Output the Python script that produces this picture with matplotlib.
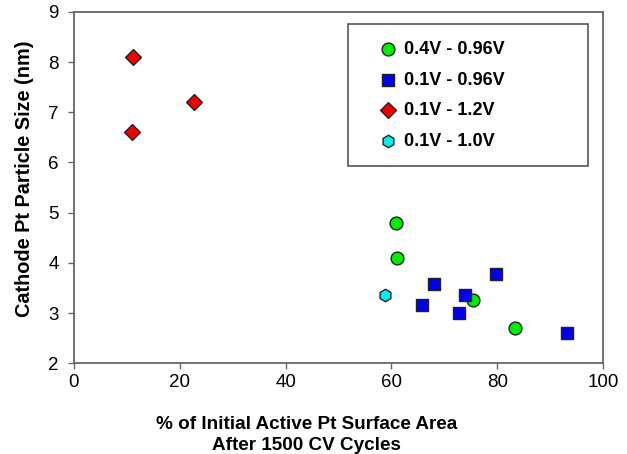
import matplotlib
matplotlib.use("Agg")
import matplotlib.pyplot as plt
from matplotlib.patches import Rectangle

# data
green_x = [60.8, 61.1, 75.4, 83.3]
green_y = [4.80, 4.10, 3.25, 2.70]
blue_x = [68.1, 65.8, 73.8, 72.8, 79.7, 93.1]
blue_y = [3.57, 3.16, 3.35, 3.00, 3.78, 2.60]
red_x = [11.2, 22.7, 10.9]
red_y = [8.10, 7.20, 6.60]
cyan_x = [58.8]
cyan_y = [3.36]

labels = ["0.4V - 0.96V", "0.1V - 0.96V", "0.1V - 1.2V", "0.1V - 1.0V"]
xticks = [0, 20, 40, 60, 80, 100]
yticks = [2, 3, 4, 5, 6, 7, 8, 9]

plt.rcParams["font.family"] = ["Liberation Sans", "DejaVu Sans"]

fig = plt.figure(figsize=(6.27, 4.54), dpi=100)
ax = fig.add_axes([0.118, 0.2, 0.844, 0.774])

ec = "#222222"
ax.scatter(green_x, green_y, s=85, marker="o", c="#00ee00", edgecolors=ec, linewidths=1.0, label=labels[0], zorder=3)
ax.scatter(blue_x, blue_y, s=75, marker="s", c="#0000ee", edgecolors=ec, linewidths=1.0, label=labels[1], zorder=4)
ax.scatter(red_x, red_y, s=65, marker="D", c="#ee0000", edgecolors=ec, linewidths=1.0, label=labels[2], zorder=3)
ax.scatter(cyan_x, cyan_y, s=80, marker="h", c="#00eeee", edgecolors=ec, linewidths=1.0, label=labels[3], zorder=3)

ax.set_xlim(0, 100)
ax.set_ylim(2, 9)
ax.set_xticks(xticks)
ax.set_yticks(yticks)
ax.tick_params(direction="out", length=4, width=1, color="#666666", labelsize=13.5)
ax.tick_params(axis="y", pad=7)
ax.tick_params(axis="x", pad=4)
for sp in ax.spines.values():
    sp.set_color("#666666")
    sp.set_linewidth(1.3)

ax.set_ylabel("Cathode Pt Particle Size (nm)", fontsize=14.3, fontweight="bold")
ax.yaxis.set_label_coords(-0.076, 0.524)
ax.set_xlabel("% of Initial Active Pt Surface Area\nAfter 1500 CV Cycles", fontsize=13.6,
              fontweight="bold", linespacing=1.35)
ax.xaxis.set_label_coords(0.44, -0.15)

# legend frame drawn separately (it is much wider than its contents)
ax.add_patch(Rectangle((0.518, 0.561), 0.454, 0.405, transform=ax.transAxes,
                       facecolor="white", edgecolor="#555555", linewidth=1.2, zorder=5))
leg = ax.legend(loc="upper left", bbox_to_anchor=(0.57, 0.917), frameon=False,
                prop={"weight": "bold", "size": 13}, borderpad=0, labelspacing=0.75,
                handletextpad=0.15, borderaxespad=0, handlelength=1.4)
leg.set_zorder(6)

fig.savefig("out.png", dpi=100)
